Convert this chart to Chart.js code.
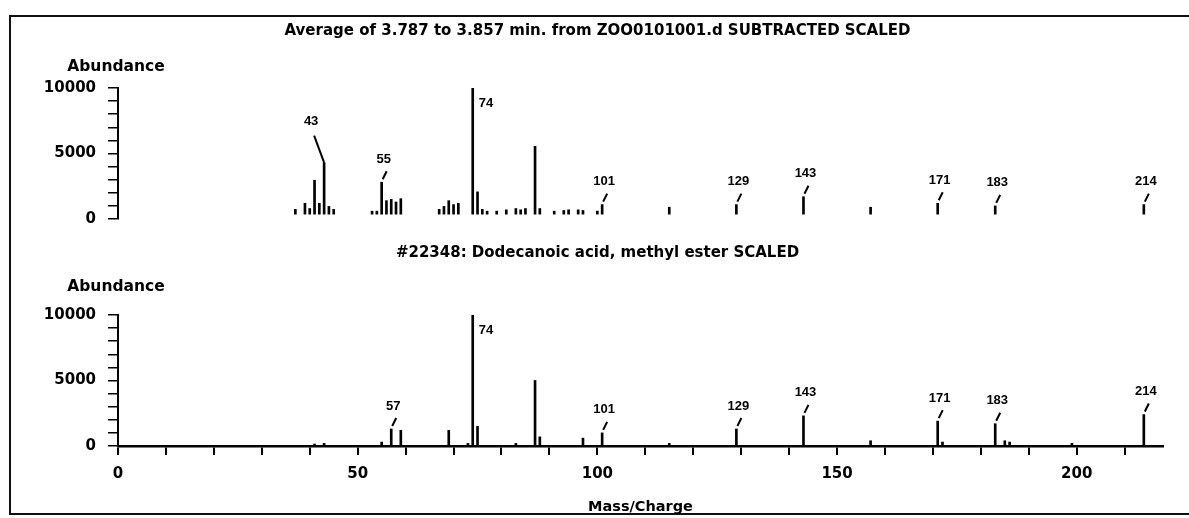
<!DOCTYPE html>
<html>
<head>
<meta charset="utf-8">
<title>Mass spectrum</title>
<script src="https://cdn.jsdelivr.net/npm/chart.js@4.4.1/dist/chart.umd.min.js"></script>
<style>
  html, body { margin: 0; padding: 0; background: #fff; }
  #page { position: relative; width: 1189px; height: 518px; overflow: hidden; background: #fff; }
  #frame { position: absolute; left: 9px; top: 15px; width: 1190px; height: 500px;
           border: 2px solid #111; border-right: none; box-sizing: border-box; }
  canvas { position: absolute; left: 0; }
  #topChart { top: 0; }
  #bottomChart { top: 240px; }
</style>
</head>
<body>
<div id="page">
  <div id="frame"></div>
  <canvas id="topChart" width="1189" height="240"></canvas>
  <canvas id="bottomChart" width="1189" height="278"></canvas>
</div>
<script>
const FONT = '"DejaVu Sans", Verdana, sans-serif';
const PEAK_FONT = '"Liberation Sans", Arial, Helvetica, sans-serif';
const MZ_MAX = 218;

// averaged scan, background subtracted
const sampleTitle = 'Average of 3.787 to 3.857 min. from ZOO0101001.d SUBTRACTED SCALED';
const sampleMz = [37, 39, 40, 41, 42, 43, 44, 45, 53, 54, 55, 56, 57, 58, 59,
                  67, 68, 69, 70, 71, 74, 75, 76, 77, 79, 81, 83, 84, 85, 87, 88,
                  91, 93, 94, 96, 97, 100, 101, 115, 129, 143, 157, 171, 183, 214];
const sampleAbund = [740, 1200, 800, 2960, 1200, 4300, 960, 740, 600, 600, 2810, 1400, 1500, 1300, 1550,
                     740, 960, 1400, 1100, 1200, 10000, 2070, 740, 600, 600, 700, 800, 700, 800, 5550, 800,
                     600, 650, 700, 700, 650, 600, 1100, 900, 1100, 1700, 900, 1200, 1000, 1100];
const sampleLabeled = [43, 55, 74, 101, 129, 143, 171, 183, 214];
// the scan has no drawn baseline; its sticks start a little above zero
const sampleBase = 370;

// library hit
const libraryTitle = '#22348: Dodecanoic acid, methyl ester SCALED';
const libraryMz = [41, 43, 55, 57, 59, 69, 73, 74, 75, 83, 87, 88, 97, 101, 115,
                   129, 143, 157, 171, 172, 183, 185, 186, 199, 214];
const libraryAbund = [150, 200, 300, 1300, 1200, 1200, 200, 10000, 1500, 200, 5000, 700, 600, 1000, 200,
                      1300, 2300, 400, 1900, 300, 1700, 400, 300, 200, 2400];
const libraryLabeled = [57, 74, 101, 129, 143, 171, 183, 214];

const abundanceLabels = [0, 5000, 10000];
const massLabels = [0, 50, 100, 150, 200];
const yName = 'Abundance';
const xName = 'Mass/Charge';

// m/z labels over the peaks: small slash + number, base peak gets its number on the right
const peakLabels = {
  id: 'peakLabels',
  afterDatasetsDraw(chart, args, opts) {
    const { ctx, scales: { x, y } } = chart;
    const pts = chart.data.datasets[0].data;
    const maxY = Math.max(...pts.map(p => p.y));
    ctx.save();
    ctx.fillStyle = '#000';
    ctx.strokeStyle = '#000';
    ctx.lineWidth = 2;
    ctx.font = 'bold 13px ' + PEAK_FONT;
    ctx.textBaseline = 'middle';
    opts.labeled.forEach(mz => {
      const p = pts.find(d => d.x === mz);
      if (!p) return;
      const px = x.getPixelForValue(p.x);
      const top = y.getPixelForValue(p.y);
      if (p.y === maxY) {
        ctx.textAlign = 'left';
        ctx.fillText(String(mz), px + 6, top + 15);
        return;
      }
      ctx.textAlign = 'center';
      ctx.beginPath();
      if ((opts.longLeaders || []).includes(mz)) {
        ctx.moveTo(px, top);
        ctx.lineTo(px - 10, top - 27);
        ctx.stroke();
        ctx.fillText(String(mz), px - 13, top - 41);
      } else {
        ctx.moveTo(px + 1, top - 3);
        ctx.lineTo(px + 5, top - 11);
        ctx.stroke();
        ctx.fillText(String(mz), px + 2, top - 23);
      }
    });
    ctx.restore();
  }
};

// title, axis names
const chartText = {
  id: 'chartText',
  afterDraw(chart, args, opts) {
    const { ctx, chartArea } = chart;
    ctx.save();
    ctx.fillStyle = '#000';
    ctx.textAlign = 'center';
    ctx.textBaseline = 'middle';
    ctx.font = 'bold 15px ' + FONT;
    ctx.fillText(opts.title, chart.width / 2 + 3, opts.titleY);
    ctx.font = 'bold 15.5px ' + FONT;
    ctx.fillText(yName, chartArea.left - 2, chartArea.top - opts.yNameGap);
    if (opts.showXName) {
      ctx.font = 'bold 14.5px ' + FONT;
      ctx.fillText(xName, (chartArea.left + chartArea.right) / 2, chart.height - 11);
    }
    ctx.restore();
  }
};

function spectrumConfig(mz, abund, labeled, opts) {
  return {
    type: 'bar',
    data: {
      datasets: [{
        data: mz.map((m, i) => ({ x: m, y: abund[i] })),
        base: opts.base,
        backgroundColor: '#000',
        borderWidth: 0,
        barThickness: 2
      }]
    },
    options: {
      responsive: false,
      animation: false,
      events: [],
      layout: { padding: opts.padding },
      plugins: {
        legend: { display: false },
        tooltip: { enabled: false },
        title: { display: false },
        peakLabels: { labeled, longLeaders: opts.longLeaders },
        chartText: { title: opts.title, titleY: opts.titleY, yNameGap: opts.yNameGap, showXName: opts.showX }
      },
      scales: {
        x: {
          type: 'linear',
          min: 0,
          max: MZ_MAX,
          display: opts.showX,
          offset: false,
          afterFit: s => { if (opts.showX) s.height = 40; },
          border: { display: true, color: '#000', width: 2.5 },
          grid: { drawOnChartArea: false, offset: false, color: '#000', lineWidth: 2, tickLength: 9 },
          ticks: {
            stepSize: 10,
            includeBounds: false,
            maxRotation: 0,
            autoSkip: false,
            padding: 10,
            color: '#000',
            font: { family: FONT, size: 15, weight: 'bold' },
            callback: v => massLabels.includes(v) ? String(v) : ''
          }
        },
        y: {
          min: 0,
          max: 10000,
          afterFit: s => { s.width = 118; },
          border: { display: true, color: '#000', width: 2 },
          grid: { drawOnChartArea: false, color: '#000', lineWidth: 1.5, tickLength: 10 },
          ticks: {
            stepSize: 1000,
            autoSkip: false,
            padding: 12,
            color: '#000',
            font: { family: FONT, size: 15, weight: 'bold' },
            callback: v => abundanceLabels.includes(v) ? String(v) : ''
          }
        }
      }
    },
    plugins: [peakLabels, chartText]
  };
}

new Chart(document.getElementById('topChart'), spectrumConfig(sampleMz, sampleAbund, sampleLabeled, {
  title: sampleTitle, titleY: 31, yNameGap: 21, showX: false, longLeaders: [43], base: sampleBase,
  padding: { left: 0, right: 26, top: 88, bottom: 17 }
}));

new Chart(document.getElementById('bottomChart'), spectrumConfig(libraryMz, libraryAbund, libraryLabeled, {
  title: libraryTitle, titleY: 13, yNameGap: 28, showX: true, longLeaders: [], base: 0,
  padding: { left: 0, right: 26, top: 75, bottom: 32 }
}));
</script>
</body>
</html>
